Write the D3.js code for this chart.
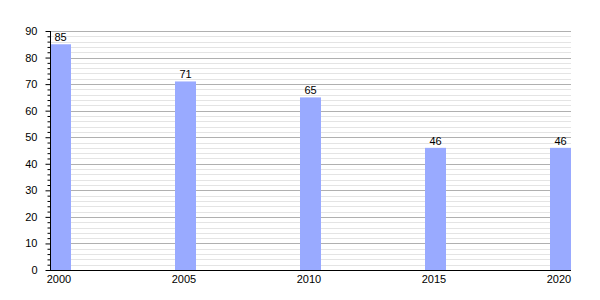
<!DOCTYPE html>
<html>
<head>
<meta charset="utf-8">
<script src="https://cdn.jsdelivr.net/npm/d3@7"></script>
<style>
  body { margin: 0; background: #fff; }
  svg { font-family: "Liberation Sans", Arial, sans-serif; }
</style>
</head>
<body>
<div id="chart"></div>
<script>
var years = ["2000", "2005", "2010", "2015", "2020"];
var values = [85, 71, 65, 46, 46];
var yTicks = [0, 10, 20, 30, 40, 50, 60, 70, 80, 90];

var width = 600, height = 300;
var plotLeft = 50, plotRight = 571, plotTop = 31, plotBottom = 270;

var svg = d3.select("#chart").append("svg")
  .attr("width", width)
  .attr("height", height);

// bars sit at the left edge of each band
var x = d3.scaleBand()
  .domain(years)
  .range([plotLeft, plotLeft + 125 * years.length])
  .paddingInner(0)
  .paddingOuter(0);
var barW = 21;

var y = d3.scaleLinear().domain([0, 90]).range([plotBottom, plotTop]);

// minor grid every 2
var minor = d3.range(2, 91, 2).filter(function(d) { return d % 10 !== 0; });
svg.append("g").selectAll("line")
  .data(minor)
  .enter().append("line")
  .attr("x1", plotLeft).attr("x2", plotRight)
  .attr("y1", function(d) { return Math.round(y(d)) + 0.5; })
  .attr("y2", function(d) { return Math.round(y(d)) + 0.5; })
  .attr("stroke", "#e4e4e4");

// major grid
svg.append("g").selectAll("line")
  .data(yTicks.slice(1))
  .enter().append("line")
  .attr("x1", plotLeft).attr("x2", plotRight)
  .attr("y1", function(d) { return Math.round(y(d)) + 0.5; })
  .attr("y2", function(d) { return Math.round(y(d)) + 0.5; })
  .attr("stroke", "#b0b0b0");

// bars
svg.append("g").selectAll("rect")
  .data(values)
  .enter().append("rect")
  .attr("x", function(d, i) { return x(years[i]); })
  .attr("y", function(d) { return y(d); })
  .attr("width", barW)
  .attr("height", function(d) { return plotBottom - y(d); })
  .attr("fill", "#99aaff");

// value labels
svg.append("g").selectAll("text")
  .data(values)
  .enter().append("text")
  .attr("x", function(d, i) { return x(years[i]) + barW / 2; })
  .attr("y", function(d) { return y(d) - 3; })
  .attr("text-anchor", "middle")
  .attr("font-size", 11)
  .attr("fill", "#000")
  .text(function(d) { return d; });

// y axis
var yAxis = d3.axisLeft(y).tickValues(yTicks).tickSize(5).tickPadding(8);
var ya = svg.append("g")
  .attr("transform", "translate(" + (plotLeft + 0.5) + ",0)")
  .call(yAxis);
ya.select(".domain").attr("d", "M0," + plotTop + "V" + plotBottom);
ya.selectAll("text").attr("font-size", 11).attr("font-family", "Liberation Sans, Arial, sans-serif");

var yMinor = d3.axisLeft(y).tickValues(minor).tickSize(3).tickFormat("");
svg.append("g")
  .attr("transform", "translate(" + (plotLeft + 0.5) + ",0)")
  .call(yMinor)
  .select(".domain").remove();

// x axis (baseline + labels)
svg.append("line")
  .attr("x1", plotLeft).attr("x2", plotRight)
  .attr("y1", plotBottom + 0.5).attr("y2", plotBottom + 0.5)
  .attr("stroke", "#000");

svg.append("g").selectAll("text")
  .data(years)
  .enter().append("text")
  .attr("x", function(d) { return x(d) + barW / 2 - 1.5; })
  .attr("y", plotBottom + 13)
  .attr("text-anchor", "middle")
  .attr("font-size", 11)
  .text(function(d) { return d; });
</script>
</body>
</html>
